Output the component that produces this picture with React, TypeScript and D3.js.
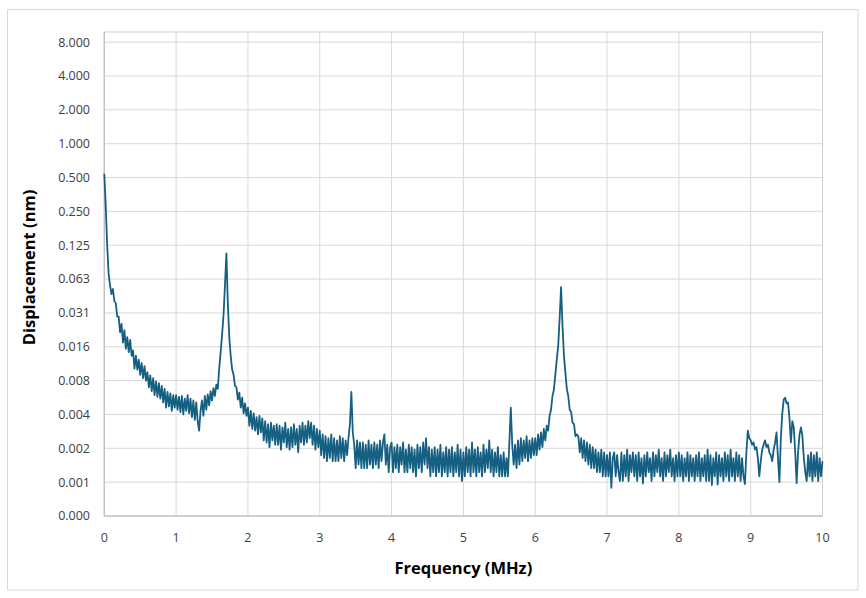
import React from "react";
import * as d3 from "d3";

// Sampling grid of the spectrum (MHz)
const freqStartMHz = 0;
const freqStepMHz = 0.02;

// Displacement amplitude (nm), one value per 0.02 MHz
const displacementNm: number[] = [
  // 0.00 - 0.18
  0.54, 0.28, 0.125, 0.07, 0.055, 0.046, 0.051, 0.04, 0.038, 0.029,
  // 0.20 - 0.38
  0.029, 0.021, 0.025, 0.017, 0.022, 0.015, 0.019, 0.014, 0.018, 0.013,
  // 0.40 - 0.58
  0.0145, 0.01, 0.013, 0.0098, 0.012, 0.0088, 0.0112, 0.0082, 0.0105, 0.0078,
  // 0.60 - 0.78
  0.0093, 0.0068, 0.0087, 0.0063, 0.0082, 0.0058, 0.0077, 0.0056, 0.0074, 0.0054,
  // 0.80 - 0.98
  0.007, 0.005, 0.0066, 0.0045, 0.0062, 0.0046, 0.006, 0.0042, 0.0058, 0.0045,
  // 1.00 - 1.18
  0.0058, 0.0043, 0.0056, 0.0041, 0.0057, 0.0039, 0.0054, 0.0042, 0.0058, 0.004,
  // 1.20 - 1.38
  0.0054, 0.0037, 0.0052, 0.0035, 0.005, 0.0034, 0.0028, 0.0042, 0.0052, 0.0038,
  // 1.40 - 1.58
  0.0057, 0.0043, 0.0059, 0.0047, 0.0063, 0.0052, 0.0067, 0.0057, 0.0072, 0.0066,
  // 1.60 - 1.78
  0.01, 0.014, 0.02, 0.03, 0.055, 0.106, 0.038, 0.019, 0.013, 0.0098,
  // 1.80 - 1.98
  0.0088, 0.007, 0.0068, 0.0053, 0.0061, 0.0045, 0.0055, 0.004, 0.0049, 0.0038,
  // 2.00 - 2.18
  0.0045, 0.0031, 0.0042, 0.0029, 0.004, 0.0028, 0.0037, 0.0026, 0.0038, 0.0027,
  // 2.20 - 2.38
  0.0036, 0.0023, 0.0034, 0.0022, 0.0032, 0.002, 0.0033, 0.0023, 0.0031, 0.0021,
  // 2.40 - 2.58
  0.0032, 0.0021, 0.0031, 0.0019, 0.003, 0.0022, 0.0033, 0.002, 0.0029, 0.0019,
  // 2.60 - 2.78
  0.003, 0.002, 0.0032, 0.0021, 0.0029, 0.0018, 0.0031, 0.0022, 0.0033, 0.0021,
  // 2.80 - 2.98
  0.0031, 0.0022, 0.0034, 0.0024, 0.0033, 0.0021, 0.0031, 0.0019, 0.0029, 0.002,
  // 3.00 - 3.18
  0.0028, 0.0017, 0.0026, 0.0016, 0.0025, 0.0015, 0.0024, 0.0016, 0.0026, 0.0015,
  // 3.20 - 3.38
  0.0024, 0.0015, 0.0023, 0.0015, 0.0025, 0.0016, 0.0024, 0.0015, 0.0023, 0.0017,
  // 3.40 - 3.58
  0.0024, 0.0032, 0.0062, 0.0027, 0.0021, 0.0013, 0.0023, 0.0014, 0.0022, 0.0013,
  // 3.60 - 3.78
  0.0022, 0.0013, 0.0021, 0.0013, 0.0023, 0.0014, 0.0021, 0.0013, 0.0022, 0.0014,
  // 3.80 - 3.98
  0.0021, 0.0013, 0.0023, 0.0015, 0.0022, 0.0026, 0.0014, 0.0021, 0.0012, 0.002,
  // 4.00 - 4.18
  0.0022, 0.0012, 0.002, 0.0013, 0.0021, 0.0012, 0.002, 0.0014, 0.0022, 0.0012,
  // 4.20 - 4.38
  0.0019, 0.0012, 0.0021, 0.0013, 0.002, 0.0012, 0.0019, 0.0011, 0.0021, 0.0013,
  // 4.40 - 4.58
  0.002, 0.0012, 0.0022, 0.0014, 0.0024, 0.0013, 0.002, 0.0011, 0.0019, 0.0012,
  // 4.60 - 4.78
  0.002, 0.0011, 0.0019, 0.0012, 0.0021, 0.0011, 0.0018, 0.0012, 0.002, 0.0011,
  // 4.80 - 4.98
  0.0019, 0.0012, 0.002, 0.0011, 0.0018, 0.0012, 0.0021, 0.0011, 0.0019, 0.001,
  // 5.00 - 5.18
  0.0018, 0.0011, 0.002, 0.0012, 0.0019, 0.0011, 0.0022, 0.0012, 0.0019, 0.0011,
  // 5.20 - 5.38
  0.002, 0.0012, 0.0018, 0.0011, 0.0021, 0.0012, 0.0019, 0.0013, 0.0023, 0.0012,
  // 5.40 - 5.58
  0.0019, 0.0011, 0.0018, 0.0012, 0.002, 0.0011, 0.0017, 0.0011, 0.0018, 0.0011,
  // 5.60 - 5.78
  0.0016, 0.0011, 0.0022, 0.0045, 0.0021, 0.0014, 0.0021, 0.0013, 0.0023, 0.0014,
  // 5.80 - 5.98
  0.0024, 0.0015, 0.0023, 0.0016, 0.0025, 0.0015, 0.0023, 0.0016, 0.0024, 0.0017,
  // 6.00 - 6.18
  0.0024, 0.0017, 0.0026, 0.0019, 0.0027, 0.002, 0.0029, 0.0023, 0.0031, 0.0028,
  // 6.20 - 6.38
  0.0038, 0.0043, 0.0057, 0.0065, 0.0088, 0.012, 0.016, 0.028, 0.053, 0.024,
  // 6.40 - 6.58
  0.013, 0.0092, 0.0066, 0.0057, 0.0043, 0.0041, 0.0033, 0.0032, 0.0025, 0.0026,
  // 6.60 - 6.78
  0.0025, 0.0018, 0.0024, 0.0016, 0.0023, 0.0015, 0.0022, 0.0014, 0.0021, 0.0013,
  // 6.80 - 6.98
  0.002, 0.0013, 0.0019, 0.0012, 0.0018, 0.0012, 0.0019, 0.0011, 0.0018, 0.0011,
  // 7.00 - 7.18
  0.0017, 0.0011, 0.0018, 0.00087, 0.0016, 0.0018, 0.0011, 0.0017, 0.0012, 0.001,
  // 7.20 - 7.38
  0.0018, 0.001, 0.0017, 0.0011, 0.0019, 0.001, 0.0017, 0.0012, 0.0018, 0.0011,
  // 7.40 - 7.58
  0.0017, 0.001, 0.0018, 0.0011, 0.0016, 0.00095, 0.0017, 0.0011, 0.0018, 0.0012,
  // 7.60 - 7.78
  0.0016, 0.001, 0.0018, 0.0011, 0.0017, 0.0012, 0.0019, 0.0011, 0.0016, 0.001,
  // 7.80 - 7.98
  0.0018, 0.0011, 0.0017, 0.0012, 0.0019, 0.0011, 0.0016, 0.001, 0.0017, 0.0011,
  // 8.00 - 8.18
  0.0018, 0.0011, 0.0017, 0.001, 0.0016, 0.0011, 0.0018, 0.001, 0.0017, 0.0011,
  // 8.20 - 8.38
  0.0016, 0.001, 0.0017, 0.0011, 0.0018, 0.001, 0.0016, 0.0011, 0.0017, 0.001,
  // 8.40 - 8.58
  0.0019, 0.001, 0.0017, 0.00092, 0.0016, 0.0011, 0.0018, 0.00093, 0.0017, 0.0011,
  // 8.60 - 8.78
  0.0016, 0.001, 0.0018, 0.0011, 0.0017, 0.001, 0.0019, 0.0011, 0.0016, 0.001,
  // 8.80 - 8.98
  0.0018, 0.0011, 0.0017, 0.001, 0.0016, 0.0011, 0.00094, 0.0018, 0.0028, 0.0024,
  // 9.00 - 9.18
  0.0023, 0.0021, 0.0022, 0.0019, 0.002, 0.0016, 0.0011, 0.0015, 0.0019, 0.0021,
  // 9.20 - 9.38
  0.0023, 0.002, 0.0021, 0.0018, 0.0017, 0.0015, 0.0019, 0.0022, 0.0027, 0.0016,
  // 9.40 - 9.58
  0.00098, 0.0024, 0.004, 0.0053, 0.0055, 0.0049, 0.005, 0.0036, 0.0022, 0.0034,
  // 9.60 - 9.78
  0.003, 0.0018, 0.00096, 0.0018, 0.0026, 0.003, 0.0025, 0.0016, 0.0012, 0.001,
  // 9.80 - 9.98
  0.0017, 0.0011, 0.0018, 0.001, 0.0017, 0.0011, 0.0018, 0.001, 0.0016, 0.0011,
  // 10.00
  0.0015,
];

const xTicks = [0, 1, 2, 3, 4, 5, 6, 7, 8, 9, 10];
const yTickExponents = [-11, -10, -9, -8, -7, -6, -5, -4, -3, -2, -1, 0, 1, 2, 3];

const W = 866;
const H = 598;
const plot = { left: 104.3, right: 822.5, top: 32, bottom: 516 };

const FONT = "'Open Sans', 'Noto Sans', 'Liberation Sans', sans-serif";

export default function App() {
  const x = d3.scaleLinear().domain([0, 10]).range([plot.left, plot.right]);
  const y = d3
    .scaleLog()
    .base(2)
    .domain([Math.pow(2, -11), Math.pow(2, 3.3)])
    .range([plot.bottom, plot.top]);

  const points: [number, number][] = displacementNm.map((v, i) => [
    freqStartMHz + i * freqStepMHz,
    v,
  ]);
  const line = d3
    .line<[number, number]>()
    .x((d) => x(d[0]))
    .y((d) => y(d[1]));

  const yTicks = yTickExponents.map((e) => Math.pow(2, e));
  const fmt = d3.format(".3f");

  return (
    <svg
      width={W}
      height={H}
      style={{ position: "absolute", left: 0, top: 0, background: "#fff" }}
    >
      <rect x={7.5} y={9.5} width={850.5} height={580.5} fill="#fff" stroke="#d9d9d9" strokeWidth={1} />
      {/* gridlines */}
      {yTicks.map((t) => (
        <line key={"gy" + t} x1={plot.left} x2={plot.right} y1={y(t)} y2={y(t)} stroke="#d9d9d9" strokeWidth={1} />
      ))}
      {xTicks.map((t) => (
        <line key={"gx" + t} x1={x(t)} x2={x(t)} y1={plot.top} y2={plot.bottom} stroke="#d9d9d9" strokeWidth={1} />
      ))}
      {/* plot frame */}
      <rect
        x={plot.left}
        y={plot.top}
        width={plot.right - plot.left}
        height={plot.bottom - plot.top}
        fill="none"
        stroke="#d0d0d0"
        strokeWidth={1}
      />
      <line x1={plot.left} x2={plot.left} y1={plot.top} y2={plot.bottom} stroke="#bfbfbf" strokeWidth={1.2} />
      <line x1={plot.left} x2={plot.right} y1={plot.bottom} y2={plot.bottom} stroke="#bfbfbf" strokeWidth={1.2} />
      {/* y tick labels */}
      {yTicks.map((t) => (
        <text
          key={"ly" + t}
          x={90}
          y={y(t)}
          dy="0.35em"
          textAnchor="end"
          fontFamily={FONT}
          fontSize={12.5}
          fill="#404040"
        >
          {fmt(t)}
        </text>
      ))}
      {/* x tick labels */}
      {xTicks.map((t) => (
        <text
          key={"lx" + t}
          x={x(t)}
          y={538}
          dy="0.35em"
          textAnchor="middle"
          fontFamily={FONT}
          fontSize={12.5}
          fill="#404040"
        >
          {t}
        </text>
      ))}
      {/* data line */}
      <path
        d={line(points) || ""}
        fill="none"
        stroke="#156082"
        strokeWidth={1.8}
        strokeLinejoin="round"
      />
      {/* axis titles */}
      <text
        x={(plot.left + plot.right) / 2}
        y={568}
        dy="0.35em"
        textAnchor="middle"
        fontFamily={FONT}
        fontSize={16.5}
        fontWeight="bold"
        fill="#000"
      >
        Frequency (MHz)
      </text>
      <text
        transform={`translate(29, 267.5) rotate(-90)`}
        dy="0.35em"
        textAnchor="middle"
        fontFamily={FONT}
        fontSize={16.5}
        fontWeight="bold"
        fill="#000"
      >
        Displacement (nm)
      </text>
    </svg>
  );
}
